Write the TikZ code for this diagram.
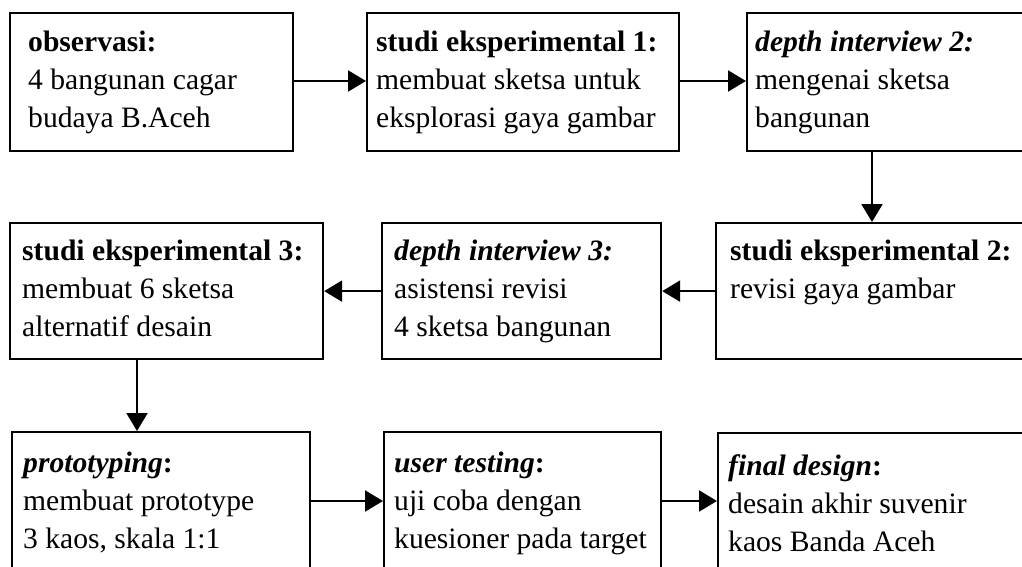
\documentclass[tikz,border=0pt]{standalone}
\usepackage{fontspec}
\setmainfont{Liberation Serif}
\usetikzlibrary{arrows.meta}
\begin{document}
\begin{tikzpicture}[x=1pt,y=-1pt,
  box/.style={draw, line width=2.2pt, anchor=north west, inner sep=0pt},
  txt/.style={anchor=base west, align=left, inner sep=0pt, font=\fontsize{29.6}{38}\selectfont},
  arr/.style={line width=2.2pt, -{Triangle[length=18pt,width=21pt]}}]
\useasboundingbox (0,0) rectangle (1022,567);
\clip (0,0) rectangle (1022,567);
% row 1
\node[box, minimum width=283pt, minimum height=138pt] (b1) at (9,12) {};
\node[box, minimum width=312pt, minimum height=138pt] (b2) at (366,12) {};
\node[box, minimum width=300pt, minimum height=138pt] (b3) at (746,12) {};
% row 2
\node[box, minimum width=330pt, minimum height=136pt] (b4) at (715,222) {};
\node[box, minimum width=279pt, minimum height=136pt] (b5) at (381,222) {};
\node[box, minimum width=313pt, minimum height=136pt] (b6) at (9,222) {};
% row 3
\node[box, minimum width=298pt, minimum height=160pt] (b7) at (11,431) {};
\node[box, minimum width=277pt, minimum height=160pt] (b8) at (383,431) {};
\node[box, minimum width=330pt, minimum height=160pt] (b9) at (717,432) {};
% texts (anchor = baseline of last line)
\node[txt] (t1) at (28,128) {\textbf{observasi:}\\4 bangunan cagar\\budaya B.Aceh};
\node[txt] (t2) at (376,128) {\textbf{studi eksperimental 1:}\\membuat sketsa untuk\\eksplorasi gaya gambar};
\node[txt] (t3) at (755,128) {\textbf{\textit{depth interview 2:}}\\mengenai sketsa\\bangunan};
\node[txt] (t4) at (730,298) {\textbf{studi eksperimental 2:}\\revisi gaya gambar};
\node[txt] (t5) at (394,336) {\textbf{\textit{depth interview 3:}}\\asistensi revisi\\4 sketsa bangunan};
\node[txt] (t6) at (22,336) {\textbf{studi eksperimental 3:}\\membuat 6 sketsa\\alternatif desain};
\node[txt] (t7) at (23,548) {\textbf{\textit{prototyping}:}\\membuat prototype\\3 kaos, skala 1:1};
\node[txt] (t8) at (394,548) {\textbf{\textit{user testing}:}\\uji coba dengan\\kuesioner pada target};
\node[txt] (t9) at (728,551) {\textbf{\textit{final design}:}\\desain akhir suvenir\\kaos Banda Aceh};
% connectors
\coordinate (c3) at (872,0);
\coordinate (c6) at (137,0);
\coordinate (r1) at (0,81);
\coordinate (r3) at (0,501);
\draw[arr] (b1.east |- r1) -- (b2.west |- r1);
\draw[arr] (b2.east |- r1) -- (b3.west |- r1);
\draw[arr] (b3.south -| c3) -- (b4.north -| c3);
\draw[arr] (b4.west) -- (b5.east);
\draw[arr] (b5.west) -- (b6.east);
\draw[arr] (b6.south -| c6) -- (b7.north -| c6);
\draw[arr] (b7.east |- r3) -- (b8.west |- r3);
\draw[arr] (b8.east |- r3) -- (b9.west |- r3);
\end{tikzpicture}
\end{document}
